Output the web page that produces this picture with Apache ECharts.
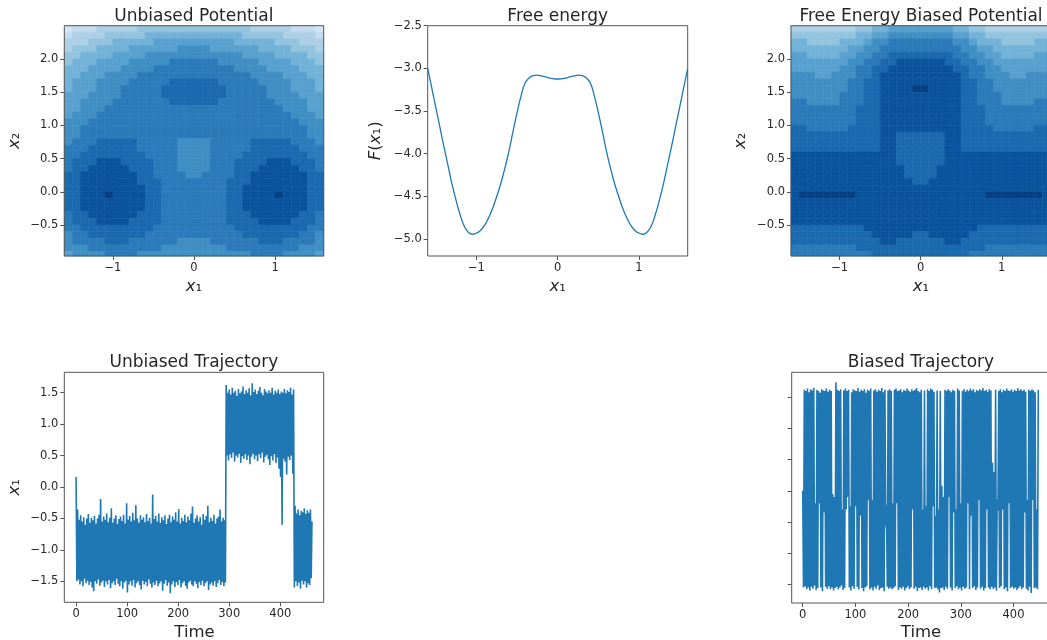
<!DOCTYPE html>
<html>
<head>
<meta charset="utf-8">
<title>Potential / free energy / trajectories</title>
<script src="https://cdn.jsdelivr.net/npm/echarts@6/dist/echarts.min.js"></script>
<style>
html, body { margin: 0; padding: 0; background: #fff; }
#main { width: 1047px; height: 640px; }
</style>
</head>
<body>
<div id="main"></div>
<script>
var FONT = 'DejaVu Sans';
var INK = '#262626';
var FRAME = '#555555';
var LINE = '#1f77b4';

/* ---------------- data ---------------- */

// contour cell centres: x1 left->right, x2 top->bottom
var cellX = [-1.55, -1.45, -1.35, -1.25, -1.15, -1.05, -0.95, -0.85, -0.75, -0.65, -0.55, -0.45, -0.35, -0.25, -0.15, -0.05,
	0.05, 0.15, 0.25, 0.35, 0.45, 0.55, 0.65, 0.75, 0.85, 0.95, 1.05, 1.15, 1.25, 1.35, 1.45, 1.55];
var cellY = [2.45, 2.35, 2.25, 2.15, 2.05, 1.95, 1.85, 1.75, 1.65, 1.55, 1.45, 1.35, 1.25, 1.15, 1.05, 0.95, 0.85, 0.75,
	0.65, 0.55, 0.45, 0.35, 0.25, 0.15, 0.05, -0.05, -0.15, -0.25, -0.35, -0.45, -0.55, -0.65, -0.75, -0.85, -0.95];

// contour band of each cell (0 = deepest, 'a' = 10), one string per x2 row
var unbiasedBands = [
	"a999888887777777777777788888999a",
	"98888777776666666666667777788889",
	"88877766666555555555566666777888",
	"87776666555555444455555566667778",
	"77666655554444444444445555666677",
	"76665555444443333334444455556667",
	"66655554444333333333344445555666",
	"66555444433333333333333444455566",
	"65554444333332222223333344445556",
	"65554443333322222222333334445556",
	"55544443333322222222333334444555",
	"55444433333332222223333333444455",
	"55444333333333333333333333344455",
	"54443333333333333333333333334445",
	"44433333333333333333333333333444",
	"44333333333333333333333333333344",
	"44333333333333333333333333333344",
	"43332222233333444433333222223334",
	"33322222233333444433333222222333",
	"33222222223333444433332222222233",
	"32221112222333444433322221112223",
	"32211111222333444433322211111223",
	"22111111122333344333322111111122",
	"22111111122233333333222111111122",
	"22111111112233333333221111111122",
	"22111011112233333333221111011122",
	"22111111112233333333221111111122",
	"22111111112233333333221111111122",
	"32211111122233333333222111111223",
	"32221111222233333333222211112223",
	"33222222222333333333322222222233",
	"43322222223333333333332222222334",
	"43333222333333444433333322233334",
	"44433333333344444444333333333444",
	"54444333344444444444444333344445"
];

var biasedBands = [
	"88888888776655555555667788888888",
	"77777777665544444444556677777777",
	"66777766654433333333445666777766",
	"66666665544333333333344556666666",
	"55666655443322222222334455666655",
	"55555554433221111112233445555555",
	"55555544332211111111223344555555",
	"44455444332111111111123344455444",
	"44444443322111111111122334444444",
	"44444443322111100111122334444444",
	"44444433322111111111122333444444",
	"33444433322111111111122333444433",
	"33333333222111111111122233333333",
	"33333333222111111111122233333333",
	"33333333222111111111122233333333",
	"22333332222111111111122223333322",
	"22222222222112222221122222222222",
	"22222222222112222221122222222222",
	"22222222222112222221122222222222",
	"11111111111112222221111111111111",
	"11111111111112222221111111111111",
	"11111111111111222211111111111111",
	"11111111111111222211111111111111",
	"11111111111111122111111111111111",
	"11111111111111111111111111111111",
	"10000000111111111111111100000001",
	"11111111111111111111111111111111",
	"11111111111111111111111111111111",
	"11111111111111111111111111111111",
	"11111111111111111111111111111111",
	"22222222211111111111111222222222",
	"22222222221111122111112222222222",
	"22222222222112222221122222222222",
	"33333333222222222222222233333333",
	"33333333332222222222223333333333"
];

// reversed Blues, one colour per band
var bandColors = ['#083f82', '#0a549e', '#1b69af', '#2b7bba', '#3f8fc5', '#58a1cf',
	'#73b2d8', '#92c4de', '#add0e6', '#c6dbef', '#d5e5f4'];

// free energy F(x1)
var feX = [-1.6, -1.55, -1.5, -1.45, -1.4, -1.35, -1.3, -1.25, -1.2, -1.15, -1.1, -1.05, -1.0, -0.95, -0.9, -0.85,
	-0.8, -0.75, -0.7, -0.65, -0.6, -0.55, -0.5, -0.45, -0.4, -0.35, -0.3, -0.25, -0.2, -0.15, -0.1, -0.05, 0,
	0.05, 0.1, 0.15, 0.2, 0.25, 0.3, 0.35, 0.4, 0.45, 0.5, 0.55, 0.6, 0.65, 0.7, 0.75, 0.8,
	0.85, 0.9, 0.95, 1.0, 1.05, 1.1, 1.15, 1.2, 1.25, 1.3, 1.35, 1.4, 1.45, 1.5, 1.55, 1.6];
var feY = [-3.0, -3.23, -3.46, -3.69, -3.92, -4.14, -4.36, -4.55, -4.72, -4.85, -4.92, -4.945, -4.93, -4.90, -4.84, -4.75,
	-4.64, -4.50, -4.35, -4.17, -3.97, -3.74, -3.52, -3.32, -3.17, -3.11, -3.085, -3.08, -3.088, -3.10, -3.115, -3.122, -3.125,
	-3.122, -3.115, -3.10, -3.088, -3.08, -3.085, -3.11, -3.17, -3.32, -3.52, -3.74, -3.97, -4.17, -4.35, -4.50, -4.64,
	-4.75, -4.84, -4.90, -4.93, -4.945, -4.92, -4.85, -4.72, -4.55, -4.36, -4.14, -3.92, -3.69, -3.46, -3.23, -3.0];

// trajectories, one sample every dt time units
var dt = 1.5;
var unbiasedTraj = [
	0.16, -1.5, -0.36, -1.47, -0.52, -1.55, -0.45, -1.5, -0.55, -1.58, -0.48, -1.46, -0.6, -1.53, -0.5, -1.49, -0.43, -1.56, -0.57, -1.51,
	-0.49, -1.6, -0.53, -1.66, -0.46, -1.5, -0.58, -1.54, -0.5, -1.47, -0.44, -1.57, -0.19, -1.52, -0.55, -1.49, -0.47, -1.59, -0.52, -1.5,
	-0.42, -1.55, -0.56, -1.48, -0.49, -1.61, -0.34, -1.53, -0.57, -1.5, -0.5, -1.56, -0.45, -1.46, -0.59, -1.54, -0.51, -1.58, -0.47, -1.5,
	-0.54, -1.62, -0.44, -1.52, -0.58, -1.49, -0.26, -1.68, -0.52, -1.55, -0.46, -1.5, -0.55, -1.57, -0.41, -1.48, -0.53, -1.6, -0.29, -1.53,
	-0.5, -1.5, -0.57, -1.56, -0.45, -1.63, -0.52, -1.49, -0.48, -1.55, -0.56, -1.51, -0.43, -1.58, -0.54, -1.47, -0.49, -1.54, -0.58, -1.6,
	-0.12, -1.52, -0.51, -1.56, -0.46, -1.49, -0.55, -1.58, -0.42, -1.53, -0.57, -1.5, -0.48, -1.65, -0.53, -1.54, -0.45, -1.48, -0.59, -1.57,
	-0.5, -1.52, -0.44, -1.69, -0.56, -1.55, -0.47, -1.5, -0.52, -1.59, -0.4, -1.51, -0.55, -1.56, -0.35, -1.48, -0.58, -1.6, -0.49, -1.53,
	-0.54, -1.5, -0.44, -1.57, -0.56, -1.62, -0.47, -1.52, -0.53, -1.49, -0.42, -1.55, -0.31, -1.58, -0.57, -1.5, -0.5, -1.54, -0.45, -1.61,
	-0.55, -1.51, -0.48, -1.56, -0.6, -1.49, -0.43, -1.58, -0.52, -1.53, -0.46, -1.5, -0.3, -1.64, -0.56, -1.55, -0.49, -1.52, -0.54, -1.57,
	-0.44, -1.5, -0.58, -1.59, -0.5, -1.53, -0.47, -1.48, -0.36, -1.56, -0.55, -1.51, -0.49, -1.58, -0.53, -1.52,
	1.62, 0.5, 1.5, 0.42, 1.55, 0.52, 1.47, 0.46, 1.58, 0.55, 1.5, 0.4, 1.53, 0.5, 1.45, 0.47, 1.56, 0.53, 1.49, 0.38,
	1.52, 0.49, 1.6, 0.45, 1.48, 0.52, 1.54, 0.43, 1.5, 0.5, 1.57, 0.36, 1.46, 0.48, 1.65, 0.53, 1.51, 0.44, 1.55, 0.5,
	1.48, 0.41, 1.53, 0.52, 1.59, 0.46, 1.5, 0.55, 1.46, 0.39, 1.56, 0.48, 1.52, 0.51, 1.49, 0.44, 1.54, 0.35, 1.5, 0.49,
	1.58, 0.42, 1.47, 0.52, 1.53, 0.38, 1.5, 0.47, 1.55, 0.29, 1.48, 0.16, 1.52, -0.6, 1.5, 0.45, 1.56, 0.4, 1.49, 0.2,
	1.54, 0.48, 1.51, 0.43, 1.58, 0.5, 1.47, 0.21, 1.55,
	-1.6, -0.3, -1.5, -0.42, -1.58, -0.36, -1.52, -0.45, -1.62, -0.38, -1.49, -0.4, -1.55, -0.34, -1.5, -0.43, -1.6, -0.37, -1.53, -0.41,
	-1.56, -0.36, -1.45, -0.55
];
var biasedTraj = [
	0.0, -1.55, 1.62, -1.53, 1.6, -1.58, 1.64, -1.55, 1.58, -1.6,
	1.63, -1.54, 1.61, -1.57, 1.65, -1.52, -0.2, -1.59, 1.62, -1.56,
	1.6, -0.2, 1.57, -1.55, 1.63, -1.61, 1.61, -0.35, 1.6, -1.54,
	1.64, -1.57, 1.59, -1.53, 1.62, -1.58, 1.6, -1.55, -0.05, -1.6,
	-0.1, -1.56, 1.74, -1.54, 1.62, -1.58, 1.6, -1.55, 1.63, -1.52,
	-0.3, -1.59, 1.61, -1.56, 1.64, -0.3, 1.6, -0.1, 1.62, -1.55,
	-0.25, -1.6, 1.58, -1.53, 1.63, -1.57, 1.61, -0.25, 1.6, -1.54,
	1.65, -1.58, 1.59, -0.4, 1.62, -1.56, 1.6, -1.61, 1.63, -1.55,
	1.57, -1.53, 1.62, -0.15, 1.6, -1.58, 1.64, -1.55, -0.15, -1.6,
	1.61, -1.54, 1.63, -1.57, 1.59, -1.52, 1.62, -1.59, 1.6, -1.56,
	1.65, -1.55, 1.58, -1.61, 1.62, -0.45, -0.35, -1.54, 1.61, -1.57,
	1.63, -1.55, 1.6, -1.58, -0.2, -1.56, 1.62, -1.53, 1.64, -0.2,
	1.6, -1.59, 1.61, -1.55, 1.63, -1.57, 1.58, -1.54, 1.62, -1.6,
	1.6, -1.56, 1.64, -1.53, 1.61, -1.58, 1.59, -1.55, 1.63, -0.3,
	1.6, -1.57, 1.62, -1.54, 1.65, -1.61, 1.6, -1.56, 1.58, -1.55,
	1.62, -1.59, -0.3, -1.54, 1.61, -1.57, -0.25, -1.55, 1.63, -1.6,
	1.6, -1.53, 1.64, -1.58, 1.62, -0.25, 1.59, -1.56, -0.4, -1.55,
	1.61, -1.58, -0.3, -1.63, 1.6, -1.56, 0.08, -1.55, -0.1, -1.59,
	1.62, -1.54, 1.6, -1.57, 1.63, -0.1, 1.61, -1.55, 1.58, -1.6,
	1.62, -0.35, 1.6, -1.56, -0.3, -1.53, 1.64, -1.58, 1.61, -1.55,
	-0.2, -1.6, 1.6, -1.54, 1.63, -1.57, 1.59, -1.55, 1.62, -0.2,
	1.6, -1.58, 1.64, -0.4, 1.61, -1.56, 1.63, -1.53, 1.58, -1.59,
	1.62, -1.55, 1.6, -0.15, 1.63, -1.57, 1.61, -1.54, 1.65, -1.6,
	1.6, -1.56, 1.62, -0.3, 1.59, -1.55, 1.63, -1.58, 1.61, -1.54,
	0.45, -1.57, 0.3, -1.55, 1.62, -1.6, -0.2, -0.25, 1.6, -1.56,
	1.63, -1.53, 1.58, -0.3, 1.62, -1.58, 1.6, -1.55, 1.64, -1.61,
	1.61, -0.2, 1.6, -1.56, 1.63, -1.54, 1.59, -1.57, 1.62, -1.55,
	1.6, -1.59, 1.65, -1.56, 1.61, -1.53, 1.63, -1.58, 1.6, -1.55,
	1.62, -0.35, 1.59, -1.57, -0.15, -1.6, 1.62, -1.54, 1.6, -1.64,
	1.63, -0.15, 1.61, -1.56, 1.58, -1.55, -0.3, -1.58, 1.62
];

// tick values
var potXTicks = [-1, 0, 1];
var potYTicks = [-0.5, 0, 0.5, 1, 1.5, 2];
var feYTicks = [-5, -4.5, -4, -3.5, -3, -2.5];
var timeTicks = [0, 100, 200, 300, 400];
var trajYTicks = [-1.5, -1, -0.5, 0, 0.5, 1, 1.5];

/* ---------------- helpers ---------------- */

function cellData(rows) {
	var out = [];
	for (var r = 0; r < rows.length; r++) {
		for (var c = 0; c < cellX.length; c++) {
			out.push([cellX[c], cellY[r], parseInt(rows[r].charAt(c), 16)]);
		}
	}
	return out;
}

var halfW = (cellX[1] - cellX[0]) / 2;
var halfH = (cellY[0] - cellY[1]) / 2;

function renderCell(params, api) {
	var cs = params.coordSys;
	var x = api.value(0), y = api.value(1);
	var a = api.coord([x - halfW, y + halfH]);
	var b = api.coord([x + halfW, y - halfH]);
	var shape = echarts.graphic.clipRectByRect(
		{ x: a[0], y: a[1], width: b[0] - a[0], height: b[1] - a[1] },
		{ x: cs.x, y: cs.y, width: cs.width, height: cs.height });
	if (!shape) return;
	var col = bandColors[api.value(2)];
	return { type: 'rect', shape: shape, style: { fill: col, stroke: col, lineWidth: 0.6 } };
}

function timeSeries(vals) {
	var pts = [];
	for (var i = 0; i < vals.length; i++) pts.push([i * dt, vals[i]]);
	return pts;
}

function curve(xs, ys) {
	var pts = [];
	for (var i = 0; i < xs.length; i++) pts.push([xs[i], ys[i]]);
	return pts;
}

function fmt(digits) {
	return function (v) {
		var s = digits ? v.toFixed(digits) : String(Math.round(v));
		return s.replace('-', '\u2212');
	};
}

function axis(grid, min, max, ticks, digits, showLabel) {
	return {
		type: 'value', gridIndex: grid, min: min, max: max,
		axisLine: { show: false, onZero: false },
		splitLine: { show: false },
		axisTick: { show: true, length: 4, lineStyle: { color: FRAME, width: 1 }, customValues: ticks },
		axisLabel: {
			show: showLabel !== false, customValues: ticks, formatter: fmt(digits),
			fontFamily: FONT, fontSize: 11.5, color: INK, margin: 6
		}
	};
}

function box(left, top, width, height) {
	return {
		left: left, top: top, width: width, height: height,
		show: true, borderColor: FRAME, borderWidth: 1, backgroundColor: 'transparent',
		containLabel: false, outerBoundsMode: 'none'
	};
}

function label(text, x, y, size, rotate) {
	return {
		type: 'text', x: x, y: y, rotation: rotate ? Math.PI / 2 : 0, z: 100,
		style: {
			text: text, fill: INK, fontFamily: FONT, fontSize: size,
			textAlign: 'center', textVerticalAlign: 'middle', align: 'center', verticalAlign: 'middle',
			rich: { m: { fontFamily: FONT, fontSize: size, fontStyle: 'italic', fill: INK } }
		}
	};
}

/* ---------------- chart ---------------- */

var chart = echarts.init(document.getElementById('main'), null, { renderer: 'canvas' });

var option = {
	animation: false,
	backgroundColor: '#fff',
	grid: [
		box(64.3, 25.7, 259.4, 230.3),
		box(427.7, 25.7, 260, 230.3),
		box(791, 25.7, 259.4, 230.3),
		box(64.3, 372.3, 259.4, 230),
		box(791.7, 372.3, 259.4, 230.7)
	],
	xAxis: [
		axis(0, -1.6, 1.6, potXTicks, 0),
		axis(1, -1.6, 1.6, potXTicks, 0),
		axis(2, -1.6, 1.6, potXTicks, 0),
		axis(3, -23.1, 485, timeTicks, 0),
		axis(4, -20.9, 471.3, timeTicks, 0)
	],
	yAxis: [
		axis(0, -0.967, 2.5, potYTicks, 1),
		axis(1, -5.2, -2.5, feYTicks, 1),
		axis(2, -0.967, 2.5, potYTicks, 1),
		axis(3, -1.834, 1.824, trajYTicks, 1),
		axis(4, -1.8, 1.9, trajYTicks, 1, false)
	],
	series: [
		{
			type: 'custom', xAxisIndex: 0, yAxisIndex: 0, z: -1,
			renderItem: renderCell, data: cellData(unbiasedBands), silent: true
		},
		{
			type: 'line', xAxisIndex: 1, yAxisIndex: 1, data: curve(feX, feY),
			smooth: true, showSymbol: false, symbol: 'none',
			lineStyle: { color: LINE, width: 1.3 }
		},
		{
			type: 'custom', xAxisIndex: 2, yAxisIndex: 2, z: -1,
			renderItem: renderCell, data: cellData(biasedBands), silent: true
		},
		{
			type: 'line', xAxisIndex: 3, yAxisIndex: 3, data: timeSeries(unbiasedTraj),
			showSymbol: false, symbol: 'none', sampling: null,
			lineStyle: { color: LINE, width: 1.6, join: 'miter', miterLimit: 40 }
		},
		{
			type: 'line', xAxisIndex: 4, yAxisIndex: 4, data: timeSeries(biasedTraj),
			showSymbol: false, symbol: 'none', sampling: null,
			lineStyle: { color: LINE, width: 1.6, join: 'miter', miterLimit: 40 }
		}
	],
	graphic: [
		label('Unbiased Potential', 193.9, 16.5, 17),
		label('Free energy', 557.7, 16.5, 17),
		label('Free Energy Biased Potential', 921, 16.5, 17),
		label('Unbiased Trajectory', 193.9, 363, 17),
		label('Biased Trajectory', 921, 363, 17),
		label('{m|x}\u2081', 193.9, 286.5, 16.5),
		label('{m|x}\u2081', 557.7, 286.5, 16.5),
		label('{m|x}\u2081', 921, 286.5, 16.5),
		label('{m|x}\u2082', 15, 140.8, 16.5, true),
		label('{m|F}({m|x}\u2081)', 376, 140.8, 16.5, true),
		label('{m|x}\u2082', 741, 140.8, 16.5, true),
		label('{m|x}\u2081', 15, 487.3, 16.5, true),
		label('Time', 194.5, 632.5, 16.5),
		label('Time', 921, 632.5, 16.5)
	]
};

chart.setOption(option);
</script>
</body>
</html>
